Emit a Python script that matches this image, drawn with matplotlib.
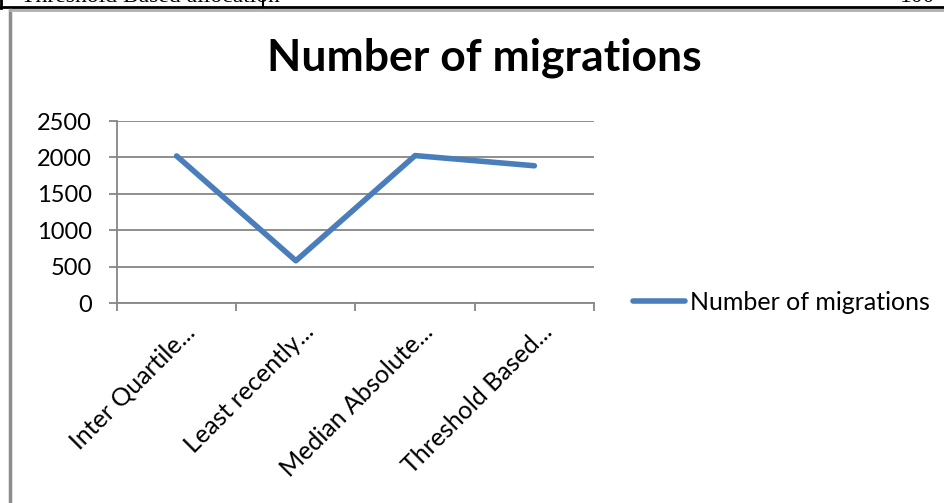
import matplotlib.pyplot as plt
from matplotlib.lines import Line2D
import matplotlib.transforms as mtransforms

# data
methods = ['Inter Quartile...', 'Least recently...', 'Median Absolute...', 'Threshold Based...']
migrations = [2020, 580, 2025, 1885]
y_ticks = [0, 500, 1000, 1500, 2000, 2500]

W, H = 945, 503
fig = plt.figure(figsize=(W / 100, H / 100), dpi=100)
plt.rcParams['font.family'] = ['Lato', 'DejaVu Sans']

def fx(px):
    return px / W

def fy(py):
    return 1 - py / H

# leftover table row of the document above the chart (cut off by the crop)
fig.add_artist(Line2D([0, 1], [fy(7), fy(7)], color='black', lw=2))
fig.add_artist(Line2D([fx(1), fx(1)], [1, fy(8)], color='black', lw=2))
fig.add_artist(Line2D([fx(263), fx(263)], [1, fy(7)], color='black', lw=1.5))
fig.text(fx(21), fy(2), 'Threshold Based allocation', family='Liberation Serif',
         fontsize=17, va='baseline')
fig.text(fx(900), fy(2), '100', family='Liberation Serif', fontsize=17, va='baseline')

# chart frame
fig.add_artist(Line2D([fx(10), fx(10)], [fy(10), 0], color='#8c8c8c', lw=2.5))
fig.add_artist(Line2D([fx(10), 1], [fy(10), fy(10)], color='#b0b0b0', lw=2))

ax = fig.add_axes([fx(117), fy(303), fx(594) - fx(117), fy(121) - fy(303)])
x = list(range(len(methods)))
ax.plot(x, migrations, color='#4a7ebb', lw=4, solid_capstyle='round',
        label='Number of migrations')

ax.set_ylim(0, 2500)
ax.set_xlim(-0.5, len(methods) - 0.5)
ax.set_yticks(y_ticks)
ax.set_yticklabels([str(v) for v in y_ticks], fontsize=17)
ax.yaxis.grid(True, color='#868686', lw=1.3)
ax.set_axisbelow(True)

ax.set_xticks([i - 0.5 for i in range(len(methods) + 1)])
ax.set_xticklabels([])
ax.set_xticks(x, minor=True)
ax.set_xticklabels(methods, minor=True, rotation=45, ha='right', va='top',
                   rotation_mode='anchor', fontsize=18)
ax.tick_params(axis='x', which='minor', length=0, pad=0)
offset = mtransforms.ScaledTranslation(6 / 100, -17 / 100, fig.dpi_scale_trans)
for lbl in ax.get_xticklabels(minor=True):
    lbl.set_transform(lbl.get_transform() + offset)
ax.tick_params(axis='both', which='major', color='#868686', length=6, width=1.3)
ax.tick_params(axis='y', pad=12)

for side in ['top', 'right']:
    ax.spines[side].set_visible(False)
for side in ['left', 'bottom']:
    ax.spines[side].set_color('#868686')
    ax.spines[side].set_linewidth(1.3)

fig.text(fx(484), fy(58), 'Number of migrations', ha='center', va='center',
         fontsize=32, fontweight='bold')

ax.legend(loc='center left', bbox_to_anchor=(fx(633), fy(302)),
          bbox_transform=fig.transFigure, frameon=False, fontsize=18,
          handlelength=2.1, handletextpad=0.2, borderaxespad=0, borderpad=0)

fig.savefig('out.png', dpi=100)
